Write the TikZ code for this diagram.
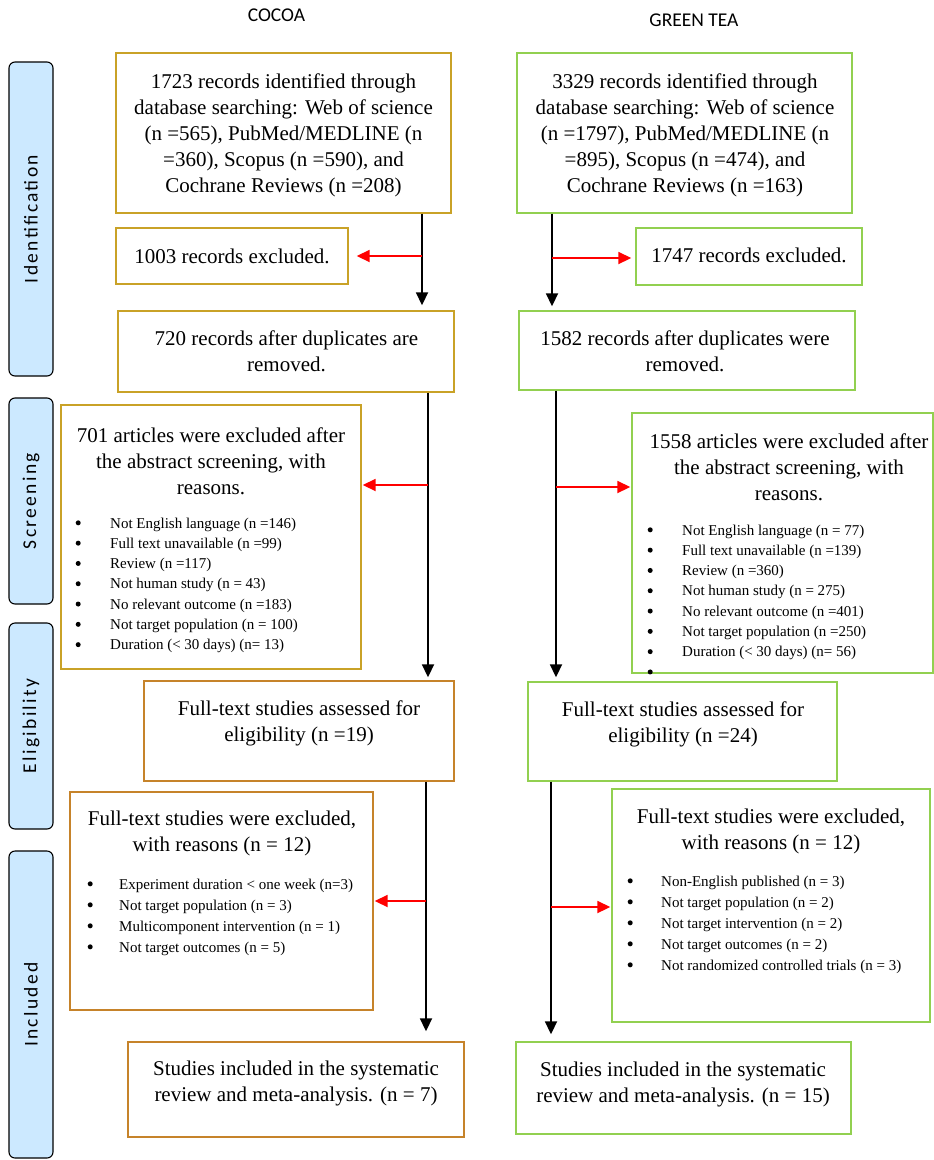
\documentclass[tikz,border=0pt]{standalone}
\usepackage{fontspec}
\setmainfont{Liberation Serif}
\newfontfamily\calib{Carlito}
\newfontfamily\calibsp[LetterSpace=12]{Carlito}
\usetikzlibrary{arrows.meta}
\definecolor{gold}{HTML}{C9A227}
\definecolor{ocre}{HTML}{C6832A}
\definecolor{gtea}{HTML}{92D050}
\definecolor{lblue}{HTML}{CCE9FF}
\newcommand\bul{\raisebox{0.75ex}{\tikz[baseline]\fill (0,0) circle (2.5pt);}}
\begin{document}
\begin{tikzpicture}[x=1pt,y=-1pt,
  side/.style={draw=black, line width=1.1pt, rounded corners=6pt, fill=lblue, rotate=90, inner sep=0pt, font=\calibsp\fontsize{19.5}{22}\selectfont},
  cbox/.style={draw=gold, line width=1.4pt, inner sep=0pt},
  obox/.style={draw=ocre, line width=1.4pt, inner sep=0pt},
  gbox/.style={draw=gtea, line width=1.4pt, inner sep=0pt},
  txt/.style={anchor=base, inner sep=0pt, font=\fontsize{21}{26}\selectfont},
  lsta/.style={anchor=base west, inner sep=0pt, font=\fontsize{15}{20.3}\selectfont},
  lstb/.style={anchor=base west, inner sep=0pt, font=\fontsize{15}{21}\selectfont},
  blk/.style={draw=black, line width=1.8pt, -{Triangle[length=13pt,width=12pt]}},
  redarr/.style={draw=red, line width=1.8pt, -{Triangle[length=13pt,width=12pt]}},
  hdr/.style={anchor=base, inner sep=0pt, font=\calib\fontsize{19.5}{22}\selectfont}
]
\useasboundingbox (0,0) rectangle (934,1160);

% headers
\node[hdr] (hc) at (276.5,21.5) {COCOA};
\node[hdr] (hg) at (694,26.5) {GREEN TEA};

% side labels
\node[side, minimum width=314pt, minimum height=44pt] (s1) at (31,219) {Identification};
\node[side, minimum width=206pt, minimum height=44pt] (s2) at (31,501) {Screening};
\node[side, minimum width=206pt, minimum height=44pt] (s3) at (31,726) {Eligibility};
\node[side, minimum width=307pt, minimum height=44pt] (s4) at (31,1004.5) {Included};

% ---------- COCOA ----------
\node[cbox, minimum width=335pt, minimum height=160pt] (A1) at (283.5,133) {};
\node[txt] (A1t) at (283.5,88) {\begin{tabular}[t]{@{}c@{}}1723 records identified through\\ database searching: Web of science\\ (n =565), PubMed/MEDLINE (n\\ =360), Scopus (n =590), and\\ Cochrane Reviews (n =208)\end{tabular}};

\node[cbox, minimum width=232pt, minimum height=56pt] (A2) at (232,256) {};
\node[txt] (A2t) at (232,263) {1003 records excluded.};

\node[cbox, minimum width=336pt, minimum height=81pt] (A3) at (286,351.5) {};
\node[txt] (A3t) at (286.5,345) {\begin{tabular}[t]{@{}c@{}}720 records after duplicates are\\ removed.\end{tabular}};

\node[cbox, minimum width=300pt, minimum height=264pt] (A4) at (211,537) {};
\node[txt] (A4t) at (211,442) {\begin{tabular}[t]{@{}c@{}}701 articles were excluded after\\ the abstract screening, with\\ reasons.\end{tabular}};
\node[lsta] (A4l) at (75.5,528) {\begin{tabular}[t]{@{}p{34.5pt}@{}l@{}}
\bul & Not English language (n =146)\\
\bul & Full text unavailable (n =99)\\
\bul & Review (n =117)\\
\bul & Not human study (n = 43)\\
\bul & No relevant outcome (n =183)\\
\bul & Not target population (n = 100)\\
\bul & Duration (< 30 days) (n= 13)
\end{tabular}};

\node[obox, minimum width=310pt, minimum height=100pt] (A5) at (299,731) {};
\node[txt] (A5t) at (299,715) {\begin{tabular}[t]{@{}c@{}}Full-text studies assessed for\\ eligibility (n =19)\end{tabular}};

\node[obox, minimum width=303pt, minimum height=218pt] (A6) at (221.5,901) {};
\node[txt] (A6t) at (222,825) {\begin{tabular}[t]{@{}c@{}}Full-text studies were excluded,\\ with reasons (n = 12)\end{tabular}};
\node[lstb] (A6l) at (87.5,889) {\begin{tabular}[t]{@{}p{31.5pt}@{}l@{}}
\bul & Experiment duration < one week (n=3)\\
\bul & Not target population (n = 3)\\
\bul & Multicomponent intervention (n = 1)\\
\bul & Not target outcomes (n = 5)
\end{tabular}};

\node[obox, minimum width=336pt, minimum height=95pt] (A7) at (296,1089.5) {};
\node[txt] (A7t) at (296,1075) {\begin{tabular}[t]{@{}c@{}}Studies included in the systematic\\ review and meta-analysis. (n = 7)\end{tabular}};

% ---------- GREEN TEA ----------
\node[gbox, minimum width=335pt, minimum height=160pt] (B1) at (684.5,133) {};
\node[txt] (B1t) at (685,88) {\begin{tabular}[t]{@{}c@{}}3329 records identified through\\ database searching: Web of science\\ (n =1797), PubMed/MEDLINE (n\\ =895), Scopus (n =474), and\\ Cochrane Reviews (n =163)\end{tabular}};

\node[gbox, minimum width=226pt, minimum height=57pt] (B2) at (749,256.5) {};
\node[txt] (B2t) at (749,262) {1747 records excluded.};

\node[gbox, minimum width=336pt, minimum height=79pt] (B3) at (687,350.5) {};
\node[txt] (B3t) at (685,345) {\begin{tabular}[t]{@{}c@{}}1582 records after duplicates were\\ removed.\end{tabular}};

\node[gbox, minimum width=301pt, minimum height=260pt] (B4) at (782.5,543) {};
\node[txt] (B4t) at (789,448) {\begin{tabular}[t]{@{}c@{}}1558 articles were excluded after\\ the abstract screening, with\\ reasons.\end{tabular}};
\node[lsta] (B4l) at (647.5,535) {\begin{tabular}[t]{@{}p{34.5pt}@{}l@{}}
\bul & Not English language (n = 77)\\
\bul & Full text unavailable (n =139)\\
\bul & Review (n =360)\\
\bul & Not human study (n = 275)\\
\bul & No relevant outcome (n =401)\\
\bul & Not target population (n =250)\\
\bul & Duration (< 30 days) (n= 56)\\
\bul &
\end{tabular}};

\node[gbox, minimum width=309pt, minimum height=99pt] (B5) at (682.5,731.5) {};
\node[txt] (B5t) at (683,716) {\begin{tabular}[t]{@{}c@{}}Full-text studies assessed for\\ eligibility (n =24)\end{tabular}};

\node[gbox, minimum width=318pt, minimum height=233pt] (B6) at (771,905.5) {};
\node[txt] (B6t) at (771,823) {\begin{tabular}[t]{@{}c@{}}Full-text studies were excluded,\\ with reasons (n = 12)\end{tabular}};
\node[lstb] (B6l) at (627.5,886) {\begin{tabular}[t]{@{}p{33.5pt}@{}l@{}}
\bul & Non-English published (n = 3)\\
\bul & Not target population (n = 2)\\
\bul & Not target intervention (n = 2)\\
\bul & Not target outcomes (n = 2)\\
\bul & Not randomized controlled trials (n = 3)
\end{tabular}};

\node[gbox, minimum width=335pt, minimum height=92pt] (B7) at (683.5,1088) {};
\node[txt] (B7t) at (683,1076) {\begin{tabular}[t]{@{}c@{}}Studies included in the systematic\\ review and meta-analysis. (n = 15)\end{tabular}};

% ---------- connectors ----------
\coordinate (ca) at (422,256);
\coordinate (cb) at (428,485);
\coordinate (cc) at (426,901);
\draw[blk, shorten >=5pt] (A1.south -| ca) -- (A3.north -| ca);
\draw[redarr, shorten >=8pt] (ca) -- (ca -| A2.east);
\draw[blk, shorten >=3pt] (A3.south -| cb) -- (A5.north -| cb);
\draw[redarr, shorten >=1pt] (cb) -- (cb -| A4.east);
\draw[blk, shorten >=10pt] (A5.south -| cc) -- (A7.north -| cc);
\draw[redarr, shorten >=1pt] (cc) -- (cc -| A6.east);

\coordinate (ga) at (552,258);
\coordinate (gb) at (556,487);
\coordinate (gc) at (551,907);
\draw[blk, shorten >=4pt] (B1.south -| ga) -- (B3.north -| ga);
\draw[redarr, shorten >=4pt] (ga) -- (ga -| B2.west);
\draw[blk, shorten >=4pt] (B3.south -| gb) -- (B5.north -| gb);
\draw[redarr, shorten >=1pt] (gb) -- (gb -| B4.west);
\draw[blk, shorten >=7pt] (B5.south -| gc) -- (B7.north -| gc);
\draw[redarr, shorten >=1pt] (gc) -- (gc -| B6.west);
\end{tikzpicture}
\end{document}
